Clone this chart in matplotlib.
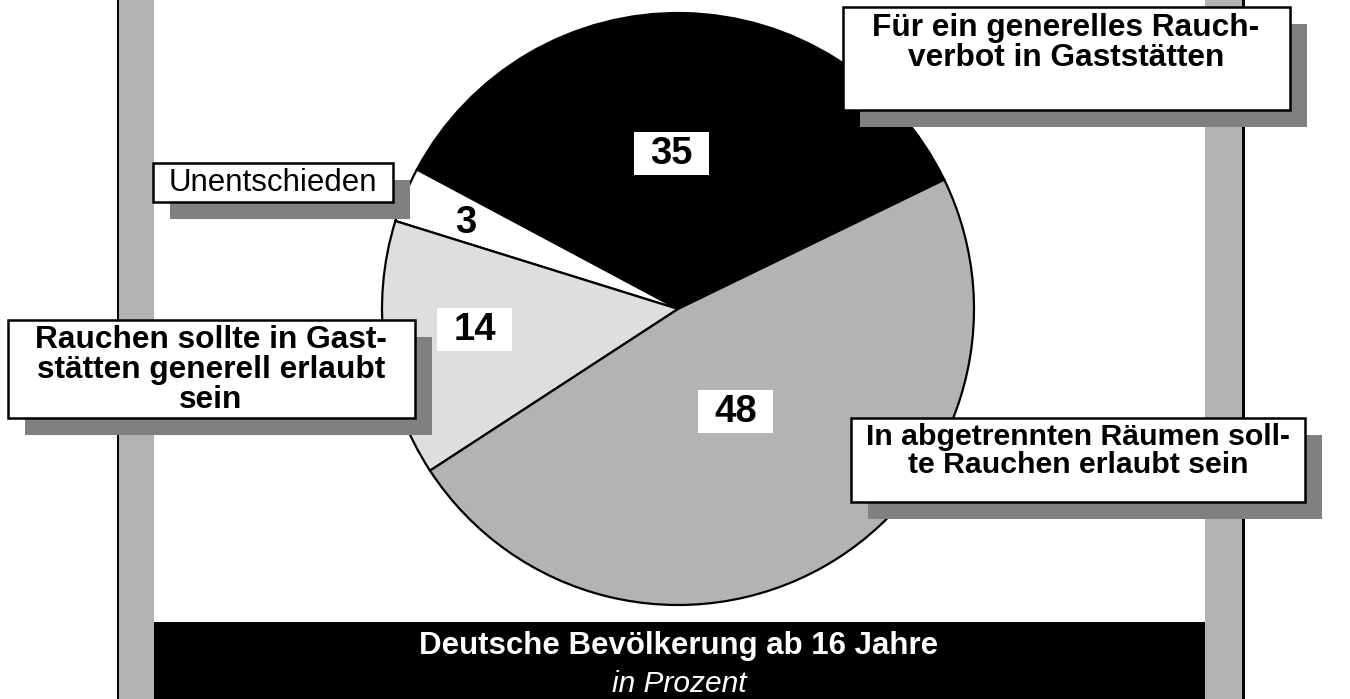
import matplotlib
matplotlib.use("Agg")
import matplotlib.pyplot as plt
from matplotlib.patches import Rectangle

plt.rcParams['font.family'] = ['Liberation Sans', 'DejaVu Sans']

# Data
categories = ["Für ein generelles Rauch-\nverbot in Gaststätten",
              "Unentschieden",
              "Rauchen sollte in Gast-\nstätten generell erlaubt\nsein",
              "In abgetrennten Räumen soll-\nte Rauchen erlaubt sein"]
values = [35, 3, 14, 48]
value_labels = ["35", "3", "14", "48"]
colors = ["#000000", "#ffffff", "#dedede", "#b3b3b3"]
footer_title = "Deutsche Bevölkerung ab 16 Jahre"
footer_sub = "in Prozent"

W, H = 1350, 699
fig = plt.figure(figsize=(W / 100, H / 100), dpi=100)
ax = fig.add_axes([0, 0, 1, 1])

# Side bars
ax.add_patch(Rectangle((119, 0), 35, H, facecolor="#b3b3b3", edgecolor="none", zorder=1))
ax.add_patch(Rectangle((116.5, 0), 2.8, H, facecolor="#000000", edgecolor="none", zorder=1))
ax.add_patch(Rectangle((1205, 0), 37, H, facecolor="#b3b3b3", edgecolor="none", zorder=1))
ax.add_patch(Rectangle((1242, 0), 2.8, H, facecolor="#000000", edgecolor="none", zorder=1))

# Pie (y axis inverted -> counterclock=False with negated start angle)
wedges, _ = ax.pie(values, colors=colors, startangle=-25.9, counterclock=False,
                   center=(678, 309), radius=296,
                   wedgeprops=dict(edgecolor="black", linewidth=1.6))
for w in wedges:
    w.set_zorder(2)

# Value labels
num_pos = [(671, 153), (466, 222), (474.5, 329.5), (735.5, 411.5)]
num_box = [True, False, True, True]
for (x, y), lab, box in zip(num_pos, value_labels, num_box):
    if box:
        ax.add_patch(Rectangle((x - 37.5, y - 21.5), 75, 43, facecolor="white",
                               edgecolor="none", zorder=3))
    ax.text(x, y + 1, lab, ha="center", va="center", fontsize=27.5,
            fontweight="bold", color="black", zorder=4)

# Category label boxes (x0, y0, x1, y1) in pixel coords
boxes = [(843, 7, 1290, 110), (153, 163, 393, 202), (8, 320, 415, 418), (851, 418, 1305, 502)]
text_pos = [(1066, 43), (273, 183), (211, 370), (1078, 451)]
weights = ["bold", "normal", "bold", "bold"]
sizes = [22.8, 22.5, 22.8, 21.8]
for (x0, y0, x1, y1), (tx, ty), lab, wt, fs in zip(boxes, text_pos, categories, weights, sizes):
    ax.add_patch(Rectangle((x0 + 17, y0 + 17), x1 - x0, y1 - y0, facecolor="#808080",
                           edgecolor="none", zorder=5))
    ax.add_patch(Rectangle((x0, y0), x1 - x0, y1 - y0, facecolor="white",
                           edgecolor="black", linewidth=1.8, zorder=6))
    ax.text(tx, ty, lab, ha="center", va="center", multialignment="center",
            fontsize=fs, fontweight=wt, linespacing=0.98, zorder=7)

# Footer
ax.add_patch(Rectangle((154, 622), 1051, H - 622, facecolor="black", edgecolor="none", zorder=1))
ax.text(679, 646, footer_title, ha="center", va="center", fontsize=22.5,
        fontweight="bold", color="white", zorder=2)
ax.text(679, 684, footer_sub, ha="center", va="center", fontsize=21.5,
        fontstyle="italic", color="white", zorder=2)

ax.set_xlim(0, W)
ax.set_ylim(H, 0)
ax.set_aspect("auto")
ax.axis("off")

fig.savefig("out.png", dpi=100)
